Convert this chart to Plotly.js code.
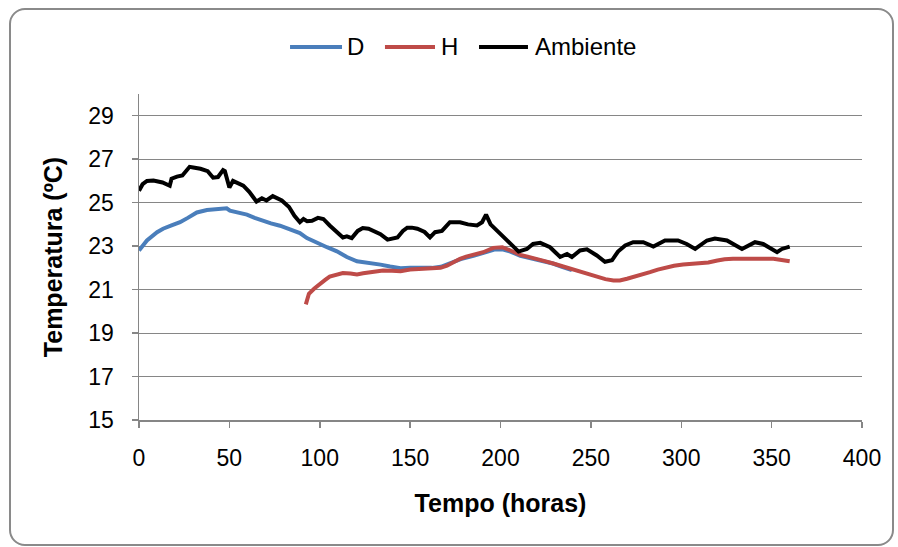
<!DOCTYPE html>
<html>
<head>
<meta charset="utf-8">
<script src="https://cdn.plot.ly/plotly-3.0.1.min.js"></script>
<style>
  html, body { margin: 0; padding: 0; background: #ffffff; }
  #wrap { position: relative; width: 898px; height: 547px; }
  #chart { position: absolute; left: 0; top: 0; width: 898px; height: 547px; }
  #frame { position: absolute; left: 9px; top: 8px; width: 885px; height: 538px;
           box-sizing: border-box; border: 2px solid #8a8a8a; border-radius: 16px;
           pointer-events: none; }
</style>
</head>
<body>
<div id="wrap">
  <div id="chart"></div>
  <div id="frame"></div>
</div>
<script>
// Series D (blue)
const dHours = [0, 4.4, 10, 13.3, 18, 22.7, 27, 32, 37.6, 43, 48.5, 50.3, 55, 59.7, 64, 68.6, 73, 78, 85, 89, 92.9, 100, 104, 109.5, 115, 120.6, 127.8, 133.6, 138.9, 144.7, 150, 155.8, 162, 167, 172, 178, 185, 192, 197, 201, 205.5, 211, 216, 222, 229, 234, 239.5];
const dTemp  = [22.8, 23.26, 23.64, 23.8, 23.95, 24.1, 24.3, 24.55, 24.66, 24.68, 24.74, 24.63, 24.55, 24.45, 24.3, 24.15, 24.05, 23.94, 23.75, 23.6, 23.37, 23.07, 22.95, 22.76, 22.5, 22.3, 22.23, 22.15, 22.06, 21.98, 22.0, 22.0, 22.0, 22.05, 22.2, 22.4, 22.55, 22.7, 22.85, 22.85, 22.75, 22.55, 22.45, 22.35, 22.2, 22.05, 21.9];

// Series H (red)
const hHours = [92.3, 93, 94, 97, 100, 103, 105.5, 109, 112.8, 117, 120.6, 124, 127.8, 132, 135, 140, 144.7, 150, 155.8, 161, 166.8, 170.4, 174, 177.6, 181, 184.8, 190.4, 196, 201, 205.5, 211, 215, 220.3, 225, 229.2, 234, 238.6, 243, 248, 252, 255, 258, 262.5, 266, 270, 273.4, 277, 282.7, 287, 292, 296, 301, 306, 310.5, 315, 320, 324, 328.6, 333, 338, 343, 347, 351, 354.6, 360];
const hTemp  = [20.32, 20.6, 20.81, 21.05, 21.27, 21.45, 21.6, 21.7, 21.76, 21.74, 21.7, 21.75, 21.8, 21.85, 21.88, 21.87, 21.85, 21.92, 21.96, 21.98, 22.0, 22.1, 22.28, 22.42, 22.52, 22.6, 22.72, 22.92, 22.95, 22.8, 22.6, 22.52, 22.42, 22.3, 22.2, 22.08, 21.96, 21.85, 21.73, 21.65, 21.57, 21.48, 21.42, 21.42, 21.5, 21.57, 21.65, 21.8, 21.92, 22.03, 22.1, 22.15, 22.17, 22.2, 22.25, 22.34, 22.4, 22.42, 22.42, 22.42, 22.45, 22.46, 22.42, 22.37, 22.3];

// Series Ambiente (black)
const aHours = [0, 2, 4.4, 8, 13, 17, 18, 21, 24, 28, 30, 34, 38, 41, 43.7, 46.5, 47.5, 48.5, 50, 52, 55, 57.7, 61, 65, 68, 70.5, 74, 77, 79, 83, 86, 89, 91, 93, 95.7, 99, 102, 105.5, 109, 112.8, 115, 117.7, 121, 123.8, 127, 129.5, 133.6, 137.5, 140, 143, 146, 148.4, 151, 154, 158, 161, 163.8, 167.6, 172, 177.6, 182, 187, 189.8, 192, 194.5, 200, 205.5, 210, 214.6, 218, 222, 227.4, 233, 236.8, 239.5, 244, 247.8, 253.3, 257.8, 261.7, 265, 269, 273.4, 279, 284.6, 291, 298.2, 303, 307.7, 314.2, 318.6, 325.3, 333.6, 340.8, 345.3, 350, 353, 355.7, 360];
const aTemp  = [25.55, 25.85, 26.0, 26.02, 25.93, 25.78, 26.1, 26.2, 26.25, 26.65, 26.62, 26.56, 26.45, 26.15, 26.18, 26.5, 26.45, 26.2, 25.7, 26.0, 25.9, 25.78, 25.5, 25.05, 25.2, 25.1, 25.3, 25.2, 25.1, 24.8, 24.4, 24.1, 24.25, 24.15, 24.17, 24.3, 24.25, 23.95, 23.7, 23.4, 23.45, 23.37, 23.7, 23.83, 23.8, 23.7, 23.55, 23.3, 23.35, 23.4, 23.7, 23.85, 23.85, 23.8, 23.65, 23.4, 23.64, 23.7, 24.1, 24.1, 24.0, 23.95, 24.1, 24.45, 24.0, 23.56, 23.1, 22.75, 22.87, 23.1, 23.15, 22.95, 22.5, 22.64, 22.5, 22.8, 22.85, 22.57, 22.28, 22.35, 22.75, 23.03, 23.18, 23.18, 22.98, 23.26, 23.26, 23.1, 22.87, 23.26, 23.35, 23.26, 22.87, 23.18, 23.1, 22.85, 22.72, 22.87, 22.98];

const seriesNames = ['D', 'H', 'Ambiente'];
const seriesColors = ['#4A7EBB', '#BE4B48', '#000000'];
const xTickVals = [0, 50, 100, 150, 200, 250, 300, 350, 400];
const yTickVals = [15, 17, 19, 21, 23, 25, 27, 29];

const FONT = 'Liberation Sans, Arial, sans-serif';

const traces = [
  { x: dHours, y: dTemp, name: seriesNames[0], mode: 'lines', type: 'scatter',
    line: { color: seriesColors[0], width: 4 } },
  { x: hHours, y: hTemp, name: seriesNames[1], mode: 'lines', type: 'scatter',
    line: { color: seriesColors[1], width: 4 } },
  { x: aHours, y: aTemp, name: seriesNames[2], mode: 'lines', type: 'scatter',
    line: { color: seriesColors[2], width: 4 } }
];

// Legend (drawn as shapes + text, with the reference's longer line samples)
const legY = 1.1442;
const legLineStart = [0.2089, 0.3402, 0.4703];
const legLineEnd = [0.2808, 0.4094, 0.5380];
const legTextX = [0.2849, 0.4149, 0.5450];
const shapes = seriesNames.map((n, i) => ({
  type: 'line', xref: 'paper', yref: 'paper',
  x0: legLineStart[i], x1: legLineEnd[i], y0: legY, y1: legY,
  line: { color: seriesColors[i], width: 4 }
}));
const annotations = seriesNames.map((n, i) => ({
  xref: 'paper', yref: 'paper', x: legTextX[i], y: legY,
  xanchor: 'left', yanchor: 'middle', text: n, showarrow: false,
  font: { family: FONT, size: 24, color: '#000000' }
}));

const layout = {
  width: 898, height: 547,
  margin: { l: 139, r: 36, t: 94, b: 127 },
  paper_bgcolor: '#ffffff', plot_bgcolor: '#ffffff',
  font: { family: FONT, size: 23, color: '#000000' },
  showlegend: false,
  shapes: shapes,
  annotations: annotations,
  xaxis: {
    range: [0, 400], tickvals: xTickVals, ticktext: xTickVals.map(String),
    showgrid: false, zeroline: false, showline: true, linecolor: '#868686', linewidth: 1.5,
    ticks: 'outside', ticklen: 6, tickcolor: '#868686', tickwidth: 1.5,
    ticklabelstandoff: 11,
    tickfont: { family: FONT, size: 23, color: '#000000' },
    title: { text: 'Tempo (horas)', font: { family: FONT, size: 25, color: '#000000', weight: 'bold' }, standoff: 24 },
    fixedrange: true
  },
  yaxis: {
    range: [15, 30], tickvals: yTickVals, ticktext: yTickVals.map(String),
    showgrid: true, gridcolor: '#868686', gridwidth: 1, zeroline: false,
    showline: true, linecolor: '#868686', linewidth: 1.5,
    ticks: 'outside', ticklen: 6, tickcolor: '#868686', tickwidth: 1.5,
    ticklabelstandoff: 13,
    tickfont: { family: FONT, size: 23, color: '#000000' },
    title: { text: 'Temperatura (ºC)', font: { family: FONT, size: 25, color: '#000000', weight: 'bold' }, standoff: 18 },
    fixedrange: true
  }
};

Plotly.newPlot('chart', traces, layout, { displayModeBar: false, staticPlot: true });
</script>
</body>
</html>
